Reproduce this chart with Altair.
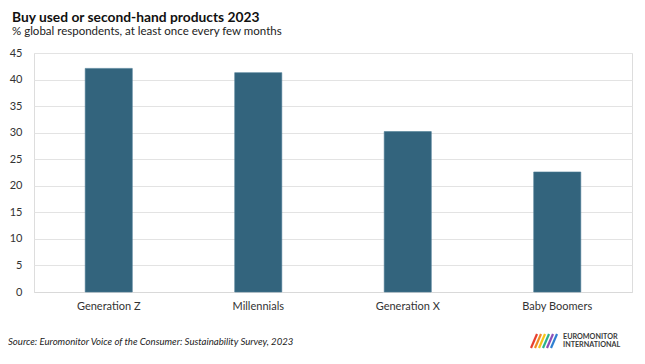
import altair as alt
import pandas as pd

categories = ["Generation Z", "Millennials", "Generation X", "Baby Boomers"]
values = [42.1, 41.3, 30.2, 22.6]
y_ticks = [0, 5, 10, 15, 20, 25, 30, 35, 40, 45]

df = pd.DataFrame({"group": categories, "value": values})

FONT = "Lato"
W, H = 598, 239

bars = alt.Chart(df).mark_bar(color="#33647D", stroke="#4a7a94", strokeWidth=0.6).encode(
    x=alt.X("group:N", sort=categories,
            scale=alt.Scale(paddingInner=0.685, paddingOuter=0.3425),
            axis=alt.Axis(title=None, labelAngle=0, labelFont=FONT, labelFontSize=11,
                          labelColor="#333333", labelPadding=8, ticks=False,
                          domainColor="#d9d9d9", domainWidth=1, grid=False)),
    y=alt.Y("value:Q", scale=alt.Scale(domain=[0, 45], nice=False),
            axis=alt.Axis(title=None, values=y_ticks, labelFont=FONT, labelFontSize=11,
                          labelColor="#333333", labelPadding=12, ticks=False,
                          domain=False, gridColor="#e3e3e3", gridWidth=1)),
)

source = alt.Chart(pd.DataFrame({"t": ["Source: Euromonitor Voice of the Consumer: Sustainability Survey, 2023"]})).mark_text(
    align="left", baseline="middle", font=FONT, fontSize=9.6, fontStyle="italic", color="#222222"
).encode(x=alt.value(-26), y=alt.value(289), text="t:N")

logo1 = alt.Chart(pd.DataFrame({"t": ["EUROMONITOR"]})).mark_text(
    align="left", baseline="middle", font=FONT, fontSize=7.2, fontWeight="bold", color="#3a3a3a"
).encode(x=alt.value(529), y=alt.value(284), text="t:N")

logo2 = alt.Chart(pd.DataFrame({"t": ["INTERNATIONAL"]})).mark_text(
    align="left", baseline="middle", font=FONT, fontSize=7.2, fontWeight="bold", color="#3a3a3a"
).encode(x=alt.value(529), y=alt.value(292), text="t:N")

logo_colors = ["#e8402f", "#f08a24", "#f5c518", "#2bb38a", "#8b4fb8", "#2f7fd1"]
icon = []
for i, c in enumerate(logo_colors):
    x0 = 497 + i * 4
    icon.append(
        alt.Chart(pd.DataFrame({"k": [0]})).mark_rule(color=c, strokeWidth=2.2).encode(
            x=alt.value(x0), x2=alt.value(x0 + 6), y=alt.value(295), y2=alt.value(281)
        )
    )

chart = alt.layer(bars, source, logo1, logo2, *icon).properties(
    width=W, height=H,
    title=alt.TitleParams(
        text="Buy used or second-hand products 2023",
        subtitle="% global respondents, at least once every few months",
        anchor="start", frame="group", dx=-22, offset=10,
        font=FONT, fontSize=13.8, fontWeight="bold", color="#111111",
        subtitleFont=FONT, subtitleFontSize=11.5, subtitleColor="#222222", subtitlePadding=1,
    ),
    autosize=alt.AutoSizeParams(type="none"),
    padding={"left": 26, "top": 45, "right": 5, "bottom": 60},
).configure_view(stroke=None).configure(background="white")

chart.save("out.html", embed_options={"renderer": "svg", "actions": False})
